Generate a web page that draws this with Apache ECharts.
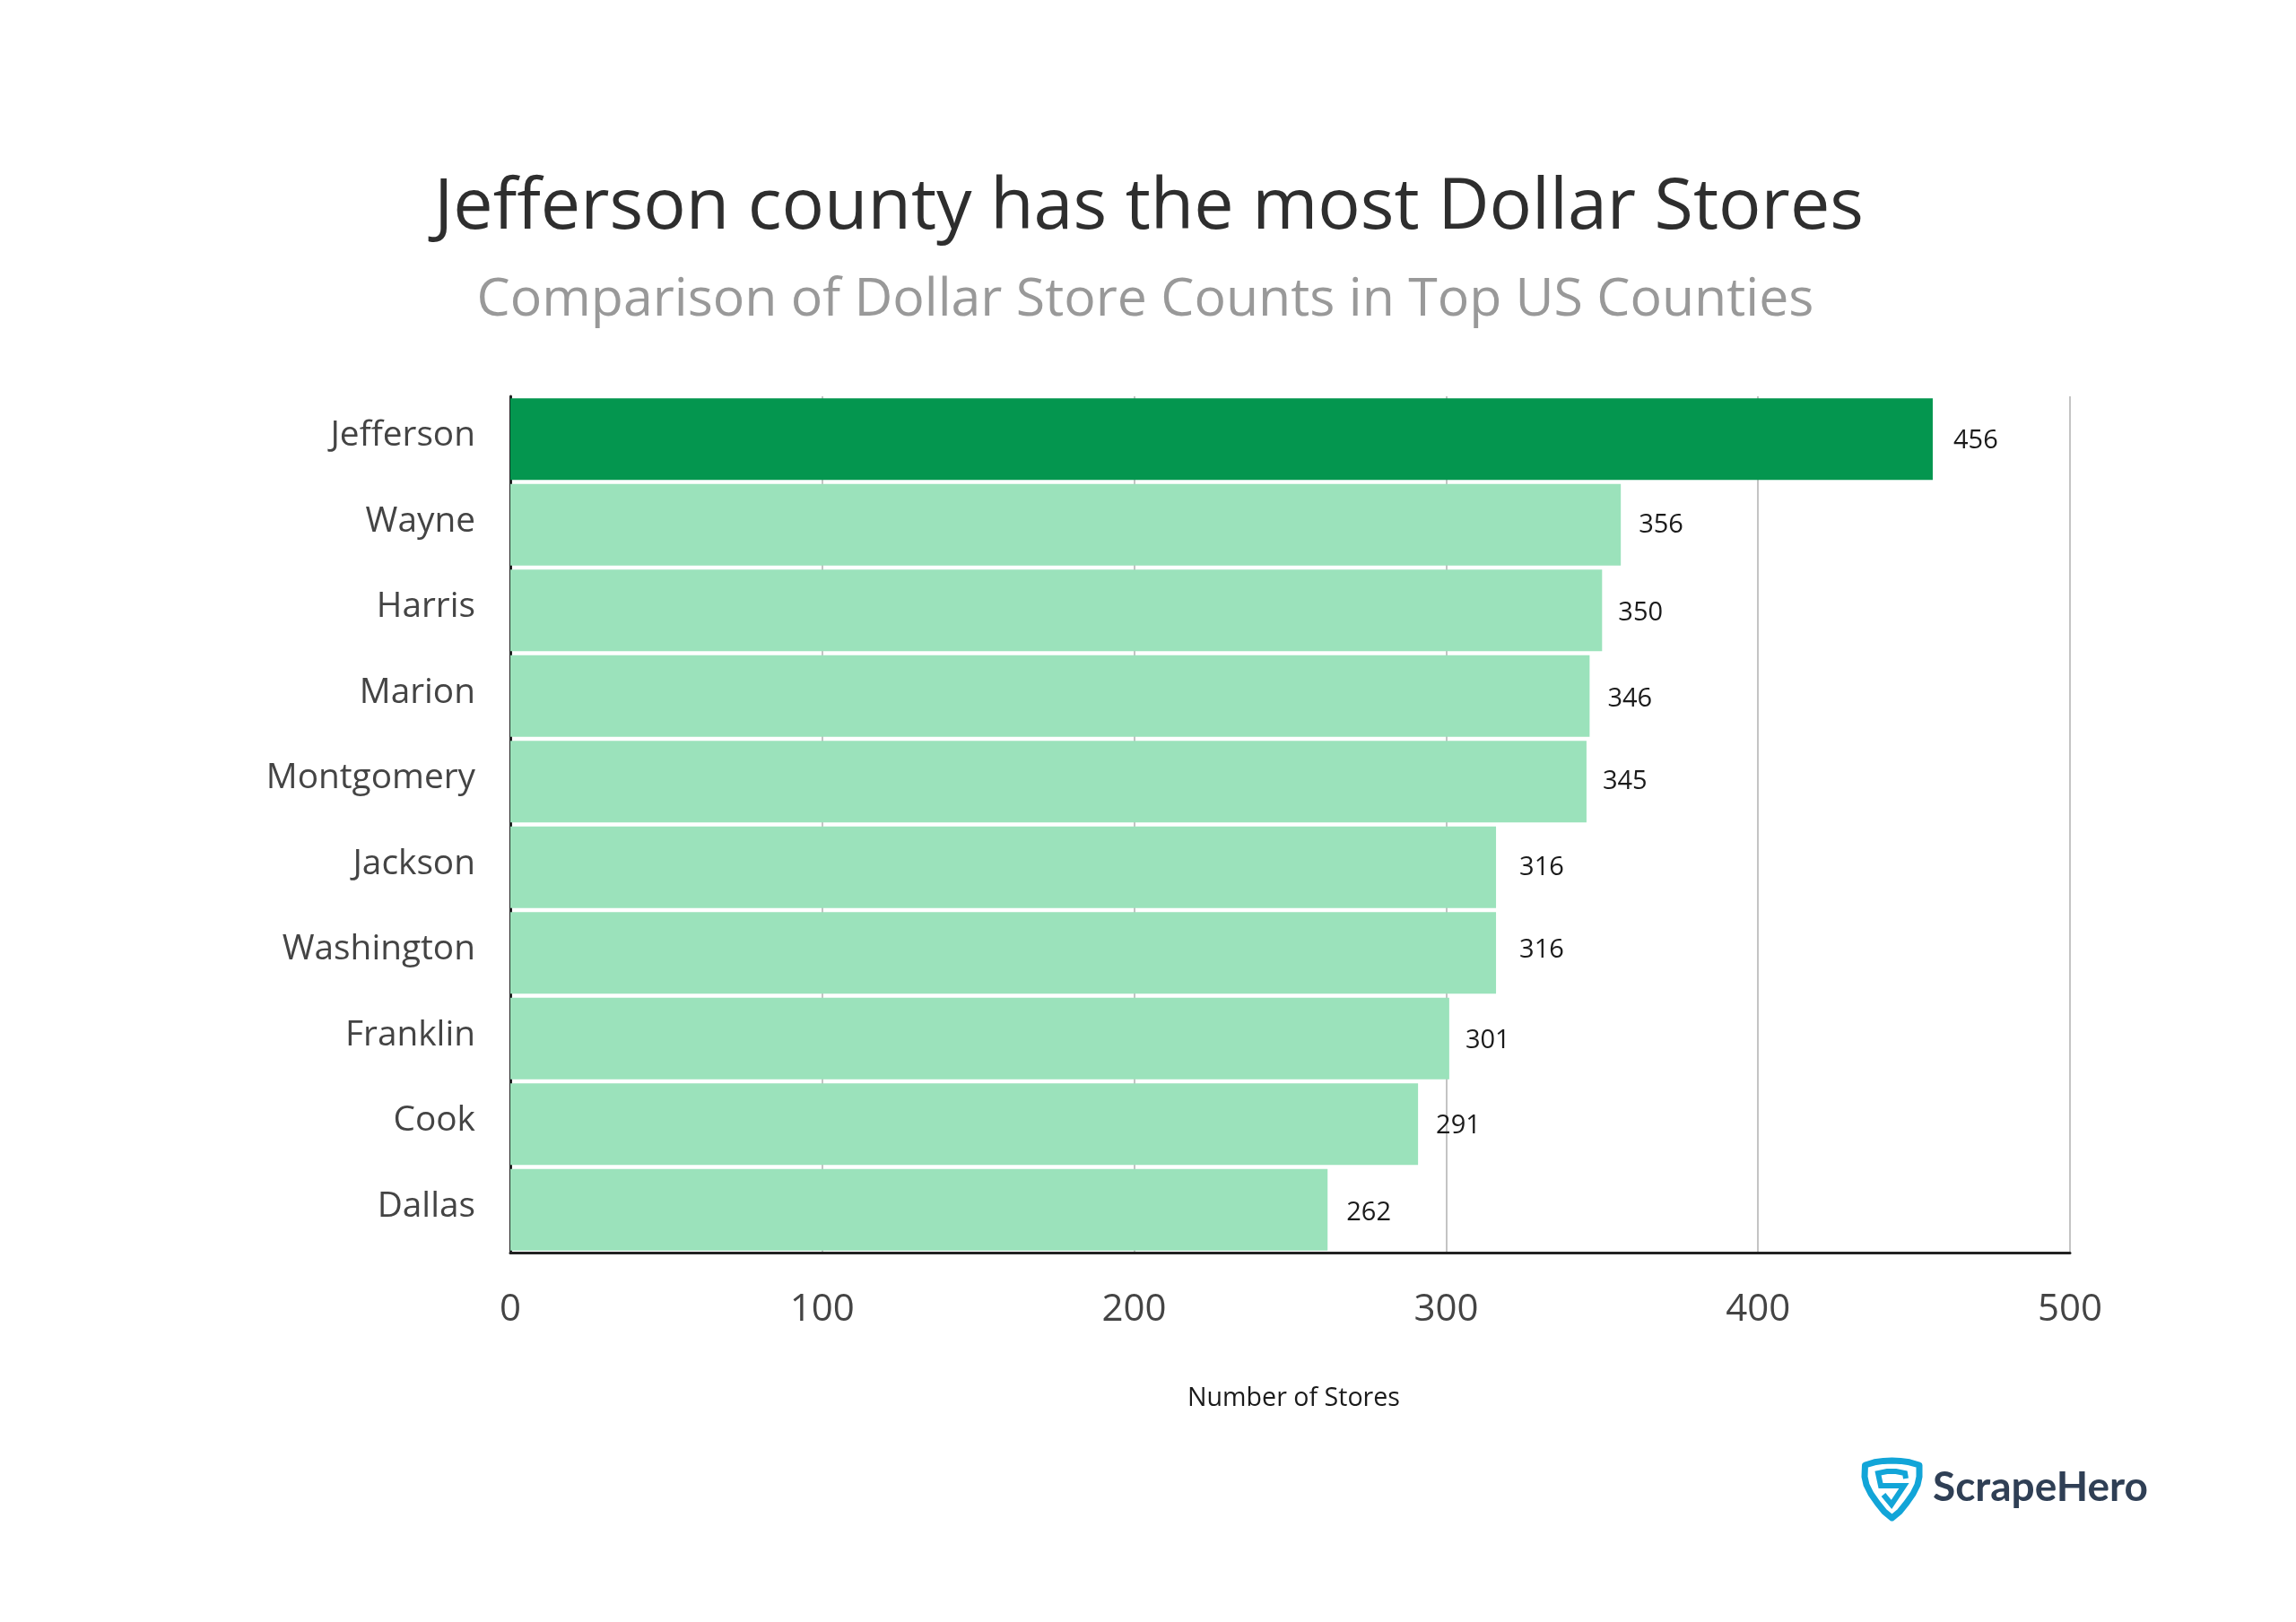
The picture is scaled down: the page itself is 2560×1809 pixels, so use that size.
<!DOCTYPE html>
<html>
<head>
<meta charset="utf-8">
<style>html,body{margin:0;padding:0;background:#fff}#main{width:2560px;height:1809px}</style>
<script src="https://cdn.jsdelivr.net/npm/echarts@6/dist/echarts.min.js"></script>
</head>
<body>
<div id="main"></div>
<script>
var counties = ['Jefferson', 'Wayne', 'Harris', 'Marion', 'Montgomery', 'Jackson', 'Washington', 'Franklin', 'Cook', 'Dallas'];
var stores = [456, 356, 350, 346, 345, 316, 316, 301, 291, 262];
var xTicks = [0, 100, 200, 300, 400, 500];

var font = '"Open Sans"';
// the value labels sit a little unevenly in the original
var labelNudge = [[5, 2], [2, 0], [0, 3], [2, 3], [0, 0], [8, 0], [8, -3], [0, 2], [2, 2], [3, 3]];
// logo shield, local coordinates of the group
var shieldOuter = [[9.5, 14], [20, 10.8], [30, 9.4], [39.5, 9], [49, 9.4], [59, 10.8], [70, 14], [70, 27], [68, 36], [63, 46], [56, 56], [48, 66], [39.5, 73], [31, 66], [23, 56], [16, 46], [11, 36], [9, 27]];
var shieldS = [[55, 29], [54, 23], [44, 21], [34, 21], [24, 23], [27, 37], [53, 37], [39, 58], [30, 47]];

var myChart = echarts.init(document.getElementById('main'), null, {renderer: 'canvas'});

var option = {
    backgroundColor: '#fff',
    animation: false,
    title: [
        {text: 'Jefferson county has the most Dollar Stores', left: 1276, top: 227, textAlign: 'center', textVerticalAlign: 'middle',
            textStyle: {fontFamily: font, fontSize: 79, fontWeight: 500, color: '#2e2e2e'}},
        {text: 'Comparison of Dollar Store Counts in Top US Counties', left: 1272, top: 330, textAlign: 'center', textVerticalAlign: 'middle',
            textStyle: {fontFamily: font, fontSize: 59, fontWeight: 400, color: '#999999'}}
    ],
    grid: {left: 569, top: 442, width: 1739, height: 955},
    xAxis: {
        type: 'value', min: xTicks[0], max: xTicks[xTicks.length - 1], interval: 100,
        name: 'Number of Stores', nameLocation: 'middle', nameGap: 148,
        nameTextStyle: {fontFamily: font, fontSize: 28.6, color: '#1a1a1a', padding: [0, 0, 0, 8]},
        axisLine: {show: true, onZero: false, lineStyle: {color: '#222', width: 3}},
        axisTick: {show: false},
        axisLabel: {fontFamily: font, fontSize: 42, color: '#444', margin: 43},
        splitLine: {show: true, lineStyle: {color: '#c4c4c4', width: 2}}
    },
    yAxis: {
        type: 'category', data: counties, inverse: true,
        axisLine: {show: true, lineStyle: {color: '#222', width: 3}},
        axisTick: {show: false},
        // bottom-aligned with a short line box lifts the names slightly above the bar centre
        axisLabel: {fontFamily: font, fontSize: 38.8, color: '#444', margin: 39, align: 'right', verticalAlign: 'bottom', lineHeight: 7}
    },
    series: [{
        type: 'bar',
        barWidth: 91,
        data: stores.map(function (v, i) {
            return {
                value: v,
                itemStyle: {color: i === 0 ? '#04964f' : '#9be2bb'},
                label: {offset: labelNudge[i]}
            };
        }),
        label: {show: true, position: 'right', distance: 18, fontFamily: font, fontSize: 29, color: '#1a1a1a'}
    }],
    graphic: [
        {type: 'group', x: 2070, y: 1620, children: [
            {type: 'polygon', shape: {points: shieldOuter}, style: {fill: 'none', stroke: '#12a5d8', lineWidth: 7, lineJoin: 'round'}},
            {type: 'polyline', shape: {points: shieldS}, style: {fill: 'none', stroke: '#12a5d8', lineWidth: 6, lineJoin: 'miter'}}
        ]},
        {type: 'text', left: 2155, top: 1636, style: {text: 'ScrapeHero', fontFamily: 'Lato', fontWeight: 700, fontSize: 46, fill: '#2f3f55'}}
    ]
};
myChart.setOption(option);
</script>
</body>
</html>
